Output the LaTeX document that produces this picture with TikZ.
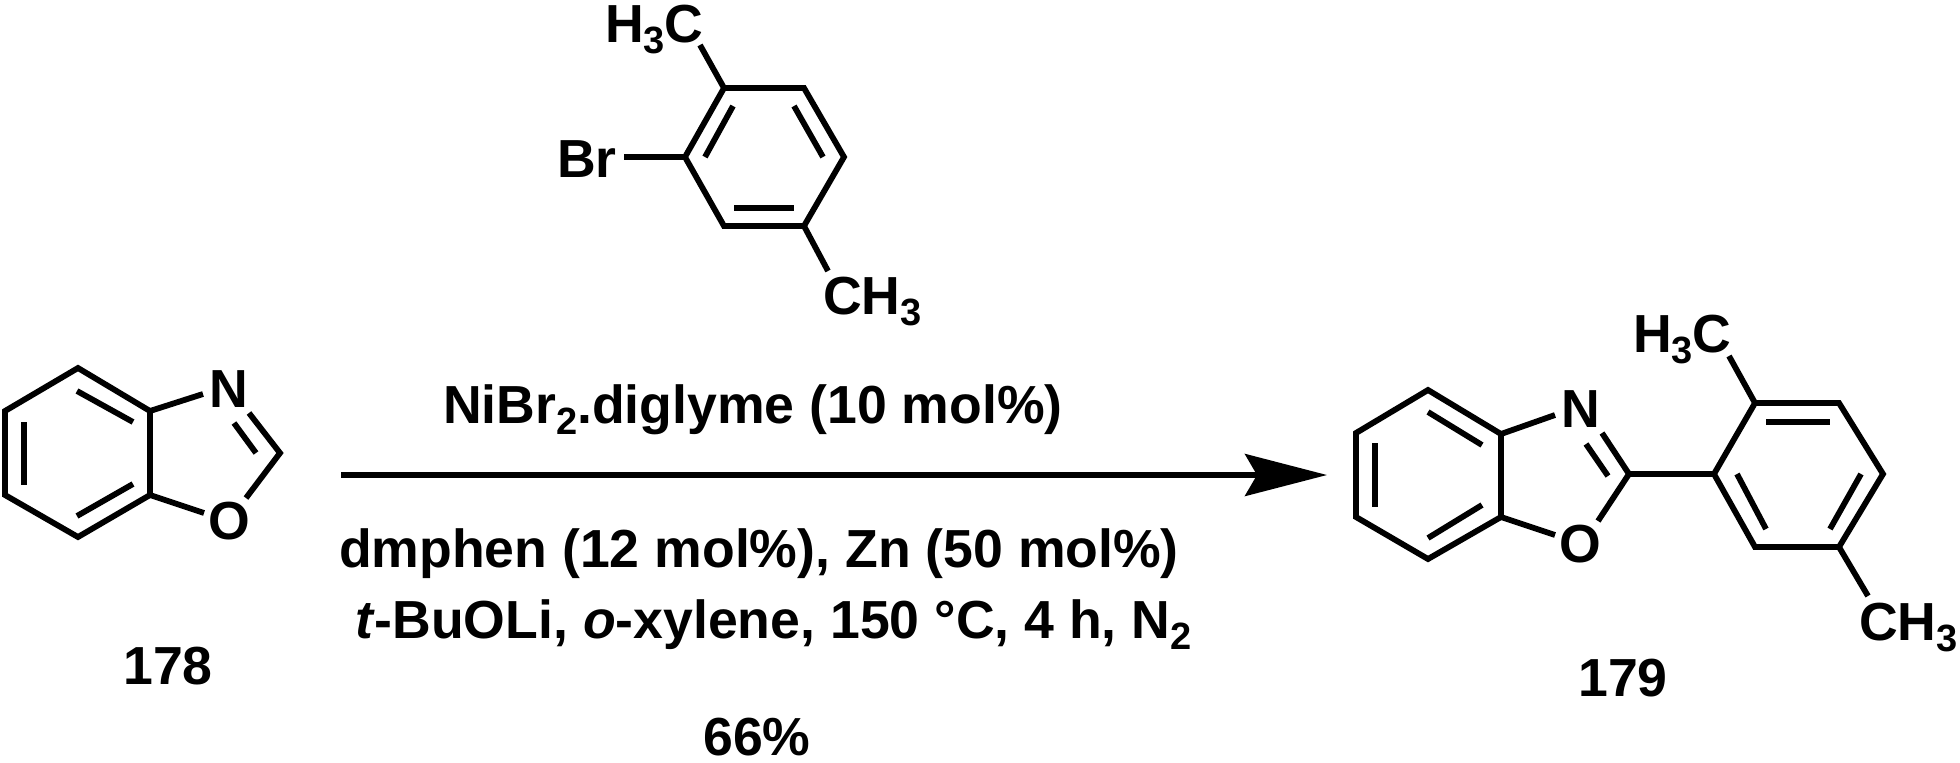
\documentclass[tikz,border=0pt]{standalone}
\usepackage{fontspec}
\setmainfont{Liberation Sans}
\usepackage{tikz}
\usetikzlibrary{arrows.meta}
\tikzset{
  bondline/.style={line width=2.9pt,line join=miter},
  lablstyle/.style={inner sep=0pt,outer sep=0pt,font=\fontsize{26.8pt}{30pt}\selectfont\bfseries}
}
\newcommand{\pt}[3]{\coordinate (#1) at ( #2 , #3 );}
\newcommand{\bond}[2]{\draw[bondline] (#1) -- (#2);}
\newcommand{\lablatom}[4]{\node[lablstyle,anchor=base] (#1) at ( #2 , #3 ) {#4};}
\newcommand{\labltext}[4]{\node[lablstyle,anchor=base west] (#1) at ( #2 , #3 ) {#4};}
\newcommand{\lablsub}[1]{\raisebox{-5.5pt}{\fontsize{19pt}{20pt}\selectfont #1}}
\begin{document}
\begin{tikzpicture}[x=0.5pt,y=-0.5pt]
        \useasboundingbox (0,0) rectangle (1960,762);
        % benzoxazole 178
        \pt{a1}{78}{368} \pt{a2}{150}{411} \pt{a3}{150}{495}
        \pt{a4}{78}{537} \pt{a5}{5}{495} \pt{a6}{5}{411}
        \draw[bondline] (a1) -- (a2) -- (a3) -- (a4) -- (a5) -- (a6) -- cycle;
        \pt{ai1}{77}{391} \pt{ai2}{133}{422} \bond{ai1}{ai2}
        \pt{ai3}{24}{422} \pt{ai4}{24}{485} \bond{ai3}{ai4}
        \pt{ai5}{77}{516} \pt{ai6}{133}{484} \bond{ai5}{ai6}
        \lablatom{an}{229}{407}{N}
        \lablatom{ao}{229}{539}{O}
        \pt{ab1}{203}{394} \bond{a2}{ab1}
        \pt{ab2}{204}{513} \bond{a3}{ab2}
        \pt{ac}{280}{453}
        \pt{ab3}{249}{413} \pt{ab4}{246}{498}
        \draw[bondline] (ab3) -- (ac) -- (ab4);
        \pt{ai7}{234}{423} \pt{ai8}{256}{453} \bond{ai7}{ai8}
        \lablatom{lbla}{168}{684}{178}

        % aryl bromide
        \pt{b1}{724}{88} \pt{b2}{804}{88} \pt{b3}{844}{157}
        \pt{b4}{804}{226} \pt{b5}{724}{226} \pt{b6}{685}{157}
        \draw[bondline] (b1) -- (b2) -- (b3) -- (b4) -- (b5) -- (b6) -- cycle;
        \pt{bi1}{733}{106} \pt{bi2}{705}{157} \bond{bi1}{bi2}
        \pt{bi3}{794}{106} \pt{bi4}{823}{157} \bond{bi3}{bi4}
        \pt{bi5}{734}{208} \pt{bi6}{794}{208} \bond{bi5}{bi6}
        \pt{bb1}{700}{45} \bond{b1}{bb1}
        \pt{bb2}{624}{157} \bond{b6}{bb2}
        \pt{bb3}{828}{271} \bond{b4}{bb3}
        \labltext{bme1}{605}{42}{H\lablsub{3}C}
        \labltext{bbr}{557}{177}{Br}
        \labltext{bme2}{823}{314}{CH\lablsub{3}}

        % arrow and conditions
        \pt{arrs}{341}{475} \pt{arre}{1327}{475}
        \draw[line width=2.6pt,-{Stealth[length=41pt,width=21pt,inset=6pt]}] (arrs) -- (arre);
        \labltext{cond1}{443}{423}{NiBr\lablsub{2}.diglyme (10 mol\%)}
        \labltext{cond2}{339}{567}{dmphen (12 mol\%), Zn (50 mol\%)}
        \labltext{cond3}{355}{638}{\textit{t}-BuOLi, \textit{o}-xylene, 150 °C, 4 h, N\lablsub{2}}
        \lablatom{yield}{757}{755}{66\%}

        % product 179
        \pt{c1}{1428}{390} \pt{c2}{1501}{434} \pt{c3}{1501}{517}
        \pt{c4}{1428}{559} \pt{c5}{1356}{517} \pt{c6}{1356}{433}
        \draw[bondline] (c1) -- (c2) -- (c3) -- (c4) -- (c5) -- (c6) -- cycle;
        \pt{ci1}{1428}{412} \pt{ci2}{1482}{445} \bond{ci1}{ci2}
        \pt{ci3}{1375}{443} \pt{ci4}{1375}{507} \bond{ci3}{ci4}
        \pt{ci5}{1428}{538} \pt{ci6}{1482}{505} \bond{ci5}{ci6}
        \lablatom{cn}{1581}{427}{N}
        \lablatom{co}{1580}{562}{O}
        \pt{cb1}{1555}{415} \bond{c2}{cb1}
        \pt{cb2}{1555}{535} \bond{c3}{cb2}
        \pt{cc}{1629}{474}
        \pt{cb3}{1602}{433} \pt{cb4}{1598}{521}
        \draw[bondline] (cb3) -- (cc) -- (cb4);
        \pt{ci7}{1586}{444} \pt{ci8}{1608}{476} \bond{ci7}{ci8}
        \pt{d1}{1714}{474} \pt{d2}{1755}{403} \pt{d3}{1839}{403}
        \pt{d4}{1883}{474} \pt{d5}{1839}{547} \pt{d6}{1755}{547}
        \bond{cc}{d1}
        \draw[bondline] (d1) -- (d2) -- (d3) -- (d4) -- (d5) -- (d6) -- cycle;
        \pt{di1}{1766}{422} \pt{di2}{1830}{422} \bond{di1}{di2}
        \pt{di3}{1737}{474} \pt{di4}{1766}{529} \bond{di3}{di4}
        \pt{di5}{1861}{474} \pt{di6}{1830}{529} \bond{di5}{di6}
        \pt{db1}{1729}{356} \bond{d2}{db1}
        \pt{db2}{1868}{596} \bond{d5}{db2}
        \labltext{dme1}{1633}{352}{H\lablsub{3}C}
        \labltext{dme2}{1859}{640}{CH\lablsub{3}}
        \lablatom{lblc}{1623}{696}{179}
\end{tikzpicture}
\end{document}
